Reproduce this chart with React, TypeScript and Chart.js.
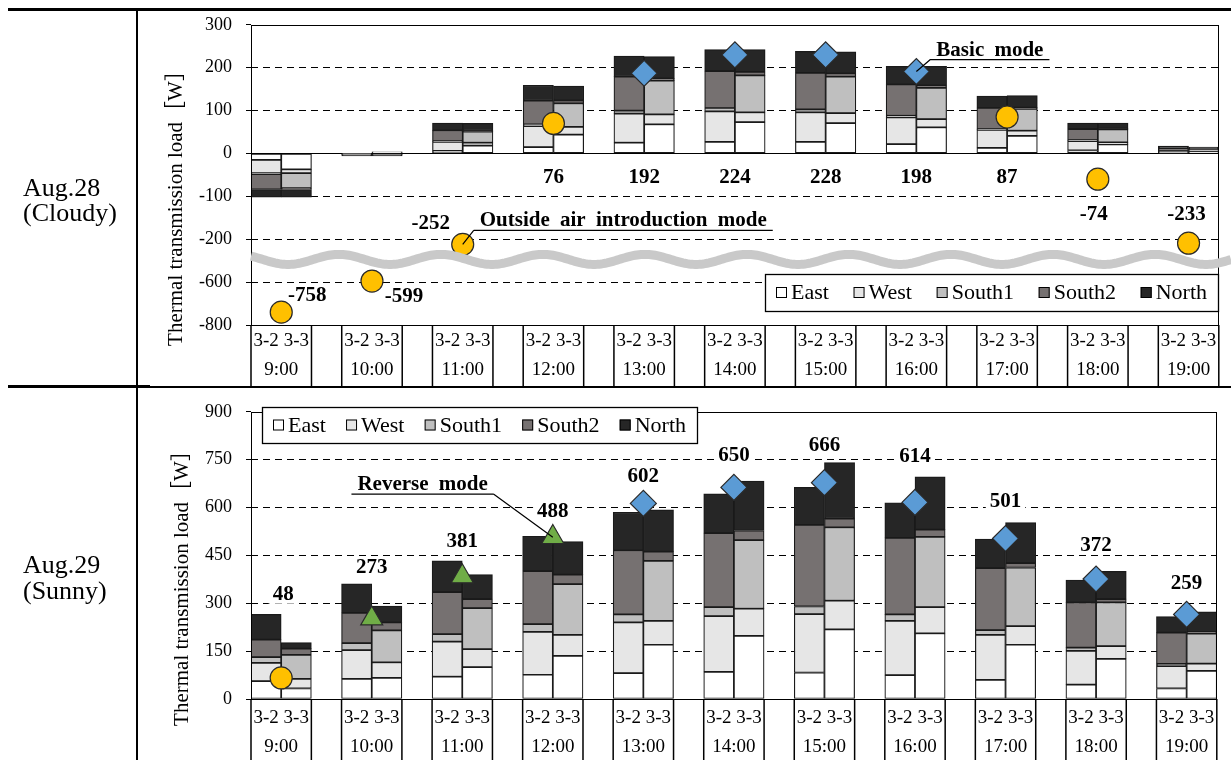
import React, { useEffect, useRef } from 'react';
import { Chart, registerables } from 'chart.js';

Chart.register(...registerables);

const FONT = '"Liberation Serif", "Times New Roman", "Noto Sans CJK JP", serif';

// ---------- data ----------
const hours = ['9:00', '10:00', '11:00', '12:00', '13:00', '14:00', '15:00', '16:00', '17:00', '18:00', '19:00'];
const rooms = ['3-2', '3-3'];
const seriesNames = ['East', 'West', 'South1', 'South2', 'North'];
const seriesColors = ['#FFFFFF', '#E6E6E6', '#BFBFBF', '#767171', '#262626'];

// Aug.28 (Cloudy) [W] : for each hour, room 3-2 then room 3-3
const cloudyEast = [-15, -37, -1, 3, 6, 18, 15, 44, 25, 68, 27, 73, 27, 71, 22, 61, 13, 41, 7, 21, 1, 3];
const cloudyWest = [-31, -9, -1, 1, 21, 7, 49, 18, 68, 23, 71, 23, 69, 23, 62, 19, 42, 12, 22, 5, 4, 1];
const cloudySouth1 = [-2, -35, 0, -2, 2, 26, 4, 55, 7, 79, 8, 86, 7, 85, 4, 73, 2, 51, 2, 30, 1, 5];
const cloudySouth2 = [-36, -3, -1, -1, 25, 2, 55, 7, 79, 5, 86, 8, 85, 8, 73, 6, 49, 3, 26, 2, 6, 1];
const cloudyNorth = [-18, -18, -3, -3, 17, 17, 36, 33, 48, 51, 50, 52, 50, 50, 42, 44, 28, 28, 14, 13, 5, 5];
const cloudyMarkerTypes = ['circle', 'circle', 'circle', 'circle', 'diamond', 'diamond', 'diamond', 'diamond', 'circle', 'circle', 'circle'];
const cloudyMarkerValues = [-740, -590, -248, 70, 187, 230, 230, 191, 85, -60, -237];
const cloudyLabels = ['-758', '-599', '-252', '76', '192', '224', '228', '198', '87', '-74', '-233'];
const cloudyTickValues = [300, 200, 100, 0, -100, -200, -600, -800];

// Aug.29 (Sunny) [W]
const sunnyEast = [56, 33, 63, 66, 70, 100, 76, 135, 81, 170, 85, 198, 83, 218, 75, 206, 60, 170, 45, 126, 33, 88];
const sunnyWest = [57, 30, 90, 49, 110, 56, 134, 66, 159, 75, 175, 85, 183, 90, 170, 82, 141, 58, 106, 40, 70, 23];
const sunnySouth1 = [18, 75, 22, 100, 23, 129, 25, 159, 25, 188, 28, 215, 24, 230, 20, 220, 15, 184, 10, 137, 7, 94];
const sunnySouth2 = [55, 20, 95, 25, 132, 28, 166, 30, 201, 29, 232, 30, 256, 27, 240, 23, 194, 14, 142, 10, 98, 5];
const sunnyNorth = [79, 19, 91, 51, 98, 77, 109, 103, 119, 131, 123, 155, 117, 176, 110, 165, 91, 127, 70, 87, 50, 63];
const sunnyMarkerTypes = ['circle', 'triangle', 'triangle', 'triangle', 'diamond', 'diamond', 'diamond', 'diamond', 'diamond', 'diamond', 'diamond'];
const sunnyMarkerValues = [66, 252, 384, 507, 613, 663, 678, 616, 503, 376, 265];
const sunnyLabels = ['48', '273', '381', '488', '602', '650', '666', '614', '501', '372', '259'];
const sunnyTickValues = [0, 150, 300, 450, 600, 750, 900];

// ---------- layout / style (not data) ----------
const cloudyLabelAxisY = [-328, -332, -162, -53, -53, -53, -53, -53, -53, -141, -141];
const cloudyLabelDx = [26, 32, -32, 0, 0, 0, 0, 0, 0, -4, -2];
const sunnyLabelAxisY = [330, 414, 495, 591, 699, 765, 798, 762, 621, 483, 366];
const sunnyLabelDx = [2, 0, 0, 0, 0, 0, 0, 0, 0, 0, 0];

const markerLook: Record<string, { style: string; color: string; radius: number }> = {
  circle: { style: 'circle', color: '#FFC000', radius: 11 },
  diamond: { style: 'rectRot', color: '#5B9BD5', radius: 13 },
  triangle: { style: 'triangle', color: '#70AD47', radius: 12.7 },
};

// broken value axis of the cloudy chart (-200 .. -600 and -600 .. -800 compressed)
function brokenAxis(v: number): number {
  if (v >= -200) return v;
  if (v >= -600) return -200 + (v + 200) / 4;
  return -300 + (v + 600) / 2;
}
const identity = (v: number) => v;

const slotLabels: string[] = [];
hours.forEach((h, i) => {
  rooms.forEach((r) => slotLabels.push(`${h} ${r}`));
  if (i < hours.length - 1) slotLabels.push(`${h} -`);
});
function toSlots(values: number[]) {
  const out: (number | null)[] = [];
  hours.forEach((_h, i) => {
    out.push(values[2 * i], values[2 * i + 1]);
    if (i < hours.length - 1) out.push(null);
  });
  return out;
}

interface Annotation { text: string; marker: number; dx: number; dy: number; side: 'left' | 'right'; }
interface Spec {
  series: number[][];
  yMin: number; yMax: number; yStep: number;
  tickValues: number[];
  toAxis: (v: number) => number;
  markerTypes: string[]; markerValues: number[]; labels: string[];
  labelAxisY: number[]; labelDx: number[];
  legendBox: [number, number, number, number];
  annotations: Annotation[];
  waveAt: number | null;
  zeroLine: boolean;
  titleX: number; titleY: number;
  row1: number; row2: number;
  padTop: number; padBottom: number;
  canvasTop: number; canvasHeight: number;
}

const cloudySpec: Spec = {
  series: [cloudyEast, cloudyWest, cloudySouth1, cloudySouth2, cloudyNorth],
  yMin: -400, yMax: 300, yStep: 100,
  tickValues: cloudyTickValues,
  toAxis: brokenAxis,
  markerTypes: cloudyMarkerTypes, markerValues: cloudyMarkerValues, labels: cloudyLabels,
  labelAxisY: cloudyLabelAxisY, labelDx: cloudyLabelDx,
  legendBox: [765, 274, 1218, 311],
  annotations: [
    { text: 'Basic mode', marker: 7, dx: 14, dy: -12, side: 'right' },
    { text: 'Outside air introduction mode', marker: 2, dx: 11, dy: -14, side: 'right' },
  ],
  waveAt: -247,
  zeroLine: true,
  titleX: 176, titleY: 203,
  row1: 16, row2: 45,
  padTop: 22, padBottom: 62,
  canvasTop: 0, canvasHeight: 387,
};

const sunnySpec: Spec = {
  series: [sunnyEast, sunnyWest, sunnySouth1, sunnySouth2, sunnyNorth],
  yMin: 0, yMax: 900, yStep: 150,
  tickValues: sunnyTickValues,
  toAxis: identity,
  markerTypes: sunnyMarkerTypes, markerValues: sunnyMarkerValues, labels: sunnyLabels,
  labelAxisY: sunnyLabelAxisY, labelDx: sunnyLabelDx,
  legendBox: [262, 20, 697, 56],
  annotations: [{ text: 'Reverse mode', marker: 3, dx: -59, dy: -43, side: 'left' }],
  waveAt: null,
  zeroLine: false,
  titleX: 182, titleY: 196,
  row1: 19, row2: 48,
  padTop: 12, padBottom: 61,
  canvasTop: 387, canvasHeight: 373,
};

const overlay = {
  id: 'overlay',
  beforeDatasetsDraw(chart: any, _a: any, o: any) {
    const s: Spec = o.spec;
    const { ctx, chartArea: a } = chart;
    const xm = chart.scales.xm, ym = chart.scales.ym, y = chart.scales.y;
    ctx.save();
    if (s.zeroLine) {
      const y0 = Math.round(y.getPixelForValue(0)) + 0.5;
      ctx.strokeStyle = '#000';
      ctx.lineWidth = 1.2;
      ctx.beginPath();
      ctx.moveTo(a.left, y0);
      ctx.lineTo(a.right, y0);
      ctx.stroke();
    }
    ctx.font = `bold 21px ${FONT}`;
    ctx.textAlign = 'center';
    ctx.textBaseline = 'middle';
    s.labels.forEach((t, i) => {
      const x = xm.getPixelForValue(i * 3 + 0.5) + s.labelDx[i];
      const yy = ym.getPixelForValue(s.labelAxisY[i]);
      const w = ctx.measureText(t).width;
      ctx.fillStyle = '#fff';
      ctx.fillRect(x - w / 2 - 4, yy - 10, w + 8, 20);
      ctx.fillStyle = '#000';
      ctx.fillText(t, x, yy + 1);
    });
    ctx.restore();
  },
  afterDatasetsDraw(chart: any, _a: any, o: any) {
    const s: Spec = o.spec;
    const { ctx } = chart;
    const meta = chart.getDatasetMeta(seriesNames.length);
    ctx.save();
    ctx.font = `bold 21px ${FONT}`;
    try { (ctx as any).wordSpacing = '5px'; } catch (e) { /* ignore */ }
    ctx.textBaseline = 'alphabetic';
    ctx.textAlign = 'left';
    s.annotations.forEach((an) => {
      const p = meta.data[an.marker];
      const mx = p.x, my = p.y;
      const ax = mx + an.dx, ay = my + an.dy;
      const tw = ctx.measureText(an.text).width;
      const pad = 6;
      const ux1 = an.side === 'right' ? ax : ax - tw - 2 * pad;
      const ux2 = an.side === 'right' ? ax + tw + 2 * pad : ax;
      ctx.strokeStyle = '#000';
      ctx.lineWidth = 1.2;
      ctx.beginPath();
      ctx.moveTo(ux1, ay);
      ctx.lineTo(ux2, ay);
      ctx.moveTo(ax, ay);
      ctx.lineTo(mx, my);
      ctx.stroke();
      ctx.fillStyle = '#000';
      ctx.fillText(an.text, ux1 + pad, ay - 4);
    });
    ctx.restore();
  },
  afterDraw(chart: any, _a: any, o: any) {
    const s: Spec = o.spec;
    const { ctx, chartArea: a } = chart;
    const x = chart.scales.x;
    ctx.save();
    // plot frame
    ctx.strokeStyle = '#000';
    ctx.lineWidth = 1;
    ctx.strokeRect(Math.round(a.left) + 0.5, Math.round(a.top) + 0.5, Math.round(a.right - a.left) - 1, Math.round(a.bottom - a.top));
    // broken-axis wave
    if (s.waveAt !== null) {
      const yc = chart.scales.y.getPixelForValue(s.waveAt);
      ctx.strokeStyle = '#C9C9C9';
      ctx.lineWidth = 9;
      ctx.beginPath();
      for (let px = a.left; px <= chart.width; px += 2) {
        const py = yc - 5 * Math.cos((2 * Math.PI * (px - 747)) / 102);
        if (px === a.left) ctx.moveTo(px, py); else ctx.lineTo(px, py);
      }
      ctx.stroke();
    }
    // legend
    const [lx1, ly1, lx2, ly2] = s.legendBox;
    ctx.fillStyle = '#fff';
    ctx.fillRect(lx1, ly1, lx2 - lx1, ly2 - ly1);
    ctx.strokeStyle = '#000';
    ctx.lineWidth = 1.3;
    ctx.strokeRect(lx1 + 0.5, ly1 + 0.5, lx2 - lx1, ly2 - ly1);
    ctx.font = `22px ${FONT}`;
    ctx.textBaseline = 'middle';
    ctx.textAlign = 'left';
    const sq = 11, gapT = 4;
    const widths = seriesNames.map((n) => ctx.measureText(n).width);
    const itemsW = widths.reduce((acc, w) => acc + sq + gapT + w, 0);
    const gap = (lx2 - lx1 - 22 - itemsW) / (seriesNames.length - 1);
    let cx = lx1 + 11;
    const cy = (ly1 + ly2) / 2;
    seriesNames.forEach((n, k) => {
      ctx.fillStyle = seriesColors[k];
      ctx.fillRect(cx, cy - sq / 2, sq, sq);
      ctx.strokeStyle = '#000';
      ctx.lineWidth = 1;
      ctx.strokeRect(cx + 0.5, cy - sq / 2 + 0.5, sq - 1, sq - 1);
      ctx.fillStyle = '#000';
      ctx.fillText(n, cx + sq + gapT, cy + 1);
      cx += sq + gapT + widths[k] + gap;
    });
    // category table
    const half = (x.getPixelForValue(1) - x.getPixelForValue(0)) / 2;
    ctx.strokeStyle = '#000';
    ctx.lineWidth = 1.5;
    ctx.font = `19px ${FONT}`;
    ctx.textAlign = 'center';
    ctx.fillStyle = '#000';
    hours.forEach((h, i) => {
      const c0 = x.getPixelForValue(i * 3);
      const c1 = x.getPixelForValue(i * 3 + 1);
      const l = c0 - half, r = c1 + half;
      ctx.beginPath();
      ctx.moveTo(l, a.bottom);
      ctx.lineTo(l, chart.height);
      ctx.moveTo(r, a.bottom);
      ctx.lineTo(r, chart.height);
      ctx.stroke();
      ctx.fillText(rooms[0], c0, a.bottom + s.row1);
      ctx.fillText(rooms[1], c1, a.bottom + s.row1);
      ctx.fillText(h, (l + r) / 2, a.bottom + s.row2);
    });
    // y title
    ctx.translate(s.titleX, s.titleY);
    ctx.rotate(-Math.PI / 2);
    ctx.font = `21px ${FONT}`;
    ctx.textAlign = 'center';
    ctx.textBaseline = 'middle';
    ctx.fillText('Thermal transmission load［W］', 0, 0);
    ctx.restore();
  },
};

function buildConfig(s: Spec): any {
  const bars = seriesNames.map((name, k) => ({
    type: 'bar',
    label: name,
    data: toSlots(s.series[k]),
    backgroundColor: seriesColors[k],
    borderColor: '#1a1a1a',
    borderWidth: 1.2,
    borderSkipped: false,
    grouped: false,
    barPercentage: 1,
    categoryPercentage: 1,
    stack: 'load',
    order: 1,
    xAxisID: 'x',
    yAxisID: 'y',
  }));
  const markers = {
    type: 'line',
    label: 'markers',
    showLine: false,
    order: 0,
    xAxisID: 'xm',
    yAxisID: 'ym',
    data: s.markerValues.map((v, i) => ({ x: i * 3 + 0.5, y: s.toAxis(v) })),
    pointStyle: s.markerTypes.map((t) => markerLook[t].style),
    pointRadius: s.markerTypes.map((t) => markerLook[t].radius),
    pointHoverRadius: s.markerTypes.map((t) => markerLook[t].radius),
    pointBackgroundColor: s.markerTypes.map((t) => markerLook[t].color),
    pointBorderColor: '#2a2a2a',
    pointBorderWidth: 1.2,
  };
  const displayTicks = s.tickValues.map((v) => s.toAxis(v));
  return {
    type: 'bar',
    data: { labels: slotLabels, datasets: [...bars, markers] },
    plugins: [overlay],
    options: {
      animation: false,
      responsive: false,
      events: [],
      layout: { padding: { left: 191, right: 3, top: s.padTop, bottom: s.padBottom } },
      plugins: {
        legend: { display: false },
        tooltip: { enabled: false },
        overlay: { spec: s },
      },
      scales: {
        x: { type: 'category', display: false, offset: true, stacked: true, grid: { display: false } },
        xm: { type: 'linear', display: false, offset: false, min: -0.5, max: slotLabels.length - 0.5 },
        y: {
          type: 'linear',
          stacked: true,
          min: s.yMin,
          max: s.yMax,
          afterFit: (sc: any) => { sc.width = 60; },
          ticks: {
            stepSize: s.yStep,
            padding: 14,
            color: '#000',
            font: { family: FONT, size: 18 },
            callback: (v: number) => {
              const i = displayTicks.indexOf(v);
              return i >= 0 ? String(s.tickValues[i]) : '';
            },
          },
          grid: {
            color: (c: any) => {
              const v = c.tick ? c.tick.value : null;
              return v === s.yMin || v === s.yMax || v === 0 ? 'rgba(0,0,0,0)' : '#000';
            },
            lineWidth: 1,
            drawTicks: true,
            tickLength: 5,
            tickColor: '#000',
            tickWidth: 1,
          },
          border: { display: false, dash: [7, 5] },
        },
        ym: { type: 'linear', display: false, min: s.yMin, max: s.yMax },
      },
    },
  };
}

function Panel({ spec }: { spec: Spec }) {
  const ref = useRef<HTMLCanvasElement>(null);
  useEffect(() => {
    const chart = new Chart(ref.current as HTMLCanvasElement, buildConfig(spec));
    return () => chart.destroy();
  }, [spec]);
  return (
    <canvas
      ref={ref}
      width={1231}
      height={spec.canvasHeight}
      style={{ position: 'absolute', left: 0, top: spec.canvasTop, width: 1231, height: spec.canvasHeight }}
    />
  );
}

const textStyle: React.CSSProperties = {
  position: 'absolute',
  left: 23,
  fontFamily: FONT,
  fontSize: 26,
  lineHeight: '26px',
  color: '#000',
  whiteSpace: 'nowrap',
};

export default function App() {
  return (
    <div style={{ position: 'absolute', left: 0, top: 0, width: 1231, height: 760, background: '#fff', overflow: 'hidden' }}>
      <Panel spec={cloudySpec} />
      <Panel spec={sunnySpec} />
      <div style={{ position: 'absolute', left: 8, top: 8, width: 1223, height: 3, background: '#000' }} />
      <div style={{ position: 'absolute', left: 136, top: 10, width: 2, height: 750, background: '#000' }} />
      <div style={{ position: 'absolute', left: 8, top: 385, width: 142, height: 3, background: '#000' }} />
      <div style={{ position: 'absolute', left: 150, top: 386, width: 1081, height: 1.5, background: '#000' }} />
      <div style={{ ...textStyle, top: 175 }}>Aug.28</div>
      <div style={{ ...textStyle, top: 200 }}>(Cloudy)</div>
      <div style={{ ...textStyle, top: 552 }}>Aug.29</div>
      <div style={{ ...textStyle, top: 578 }}>(Sunny)</div>
    </div>
  );
}
